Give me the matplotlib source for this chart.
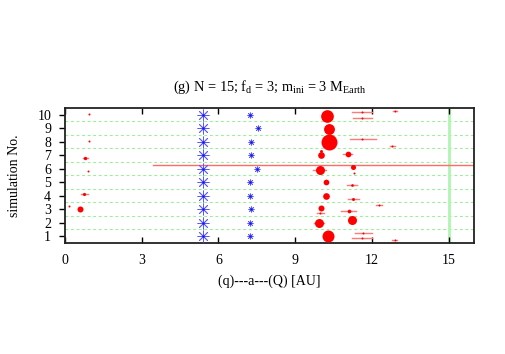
import numpy as np
import matplotlib
matplotlib.use("Agg")
import matplotlib.pyplot as plt

plt.rcParams["font.family"] = ["Liberation Serif", "DejaVu Serif"]
plt.rcParams["mathtext.fontset"] = "custom"
plt.rcParams["mathtext.rm"] = "Liberation Serif"
plt.rcParams["mathtext.it"] = "Liberation Serif:italic"

# simulation numbers and giant-planet columns (blue)
sims = [1, 2, 3, 4, 5, 6, 7, 8, 9, 10]
jup_a = [5.38] * 10
sat_a = [7.23, 7.23, 7.27, 7.23, 7.25, 7.52, 7.28, 7.28, 7.54, 7.22]

# surviving embryos (red): semi-major axis, plotted row, mass, peri, apo
emb_a = [0.93, 0.93, 0.80, 0.89, 0.76, 0.16, 0.60,
         10.26, 10.33, 10.33, 10.03, 10.03, 9.96, 10.22, 10.22, 10.00, 9.96, 9.92, 10.29,
         11.61, 12.90, 11.63, 11.63, 12.80, 11.07, 11.27, 11.31, 11.23, 11.27, 12.27,
         11.10, 11.24, 11.66, 11.60, 12.90]
emb_row = [10.05, 8.08, 6.80, 5.82, 4.15, 3.21, 2.99,
           9.93, 8.95, 7.96, 7.29, 6.98, 5.94, 5.01, 3.97, 3.12, 2.72, 1.95, 1.02,
           10.17, 10.30, 9.73, 8.21, 7.71, 7.10, 6.11, 5.70, 4.76, 3.78, 3.34,
           2.87, 2.22, 1.27, 0.88, 0.73]
emb_mass = [0.125, 0.125, 0.6, 0.125, 0.5, 0.125, 3.4,
            32, 20, 64, 0.42, 4.7, 11.4, 2.9, 4.7, 3.4, 0.125, 11.4, 27,
            0.125, 0.125, 0.125, 0.125, 0.125, 2.9, 2.0, 0.125, 0.3, 0.42, 0.125,
            0.8, 11.4, 0.125, 0.125, 0.125]
emb_q = [0.93, 0.93, 0.72, 0.89, 0.62, 0.16, 0.60,
         10.26, 10.33, 10.33, 10.03, 10.03, 9.70, 10.22, 10.22, 10.00, 9.86, 9.74, 10.29,
         11.24, 12.82, 11.27, 11.14, 12.71, 10.87, 11.27, 11.31, 11.03, 11.05, 12.16,
         10.81, 11.24, 11.33, 11.23, 12.80]
emb_Q = [0.93, 0.93, 0.88, 0.89, 0.90, 0.16, 0.60,
         10.26, 10.33, 10.33, 10.03, 10.03, 10.22, 10.22, 10.22, 10.00, 10.12, 10.12, 10.29,
         11.99, 12.99, 12.01, 12.15, 12.91, 11.23, 11.27, 11.31, 11.42, 11.49, 12.40,
         11.37, 11.24, 12.01, 12.01, 13.00]

marker_line_a = 3.45
marker_line_row = 6.25
outer_edge = 15.0

fig = plt.figure(figsize=(5.06, 3.54), dpi=100)
ax = fig.add_axes([0.1285, 0.3136, 0.8085, 0.3814])

for r in np.arange(1.5, 10, 1.0):
    ax.axhline(r, color="#99ee99", lw=0.8, ls=(0, (2.5, 2.5)), zorder=1)
ax.axvline(outer_edge, color="#b0f5b0", lw=2.0, zorder=1)
ax.plot([marker_line_a, 16], [marker_line_row, marker_line_row],
        color="#ff6a6a", lw=1.0, zorder=2)

star = (8, 2, 0)
ax.plot(jup_a, sims, ls="none", marker=star, ms=8.5, mec="#5a5aff", mew=0.6, zorder=3)
ax.plot(sat_a, sims, ls="none", marker=star, ms=4.2, mec="#5a5aff", mew=0.6, zorder=3)
ax.plot(jup_a + sat_a, sims + sims, ls="none", marker="s", ms=1.5, mfc="#1010ee",
        mec="none", zorder=3)

for a, r, m, q, Q in zip(emb_a, emb_row, emb_mass, emb_q, emb_Q):
    if Q > q:
        ax.plot([q, Q], [r, r], color="#ff7a7a", lw=1.0, zorder=3)
    ax.plot(a, r, "o", color="#ff0000", mec="none",
            ms=2.88 * m ** (1 / 3), zorder=4)

ax.set_xlim(0, 16)
ax.set_ylim(0.5, 10.5)
ax.set_xticks([0, 3, 6, 9, 12, 15])
ax.set_yticks(sims)
ax.tick_params(axis="x", direction="in", top=True, length=4, width=1, labelsize=10, pad=8)
ax.tick_params(axis="y", direction="out", length=4, width=1, labelsize=10, pad=6)
for s in ax.spines.values():
    s.set_linewidth(1.3)
    s.set_color("#222222")

ax.set_xlabel("(q)---a---(Q) [AU]", fontsize=10, labelpad=5)
ax.set_ylabel("simulation No.", fontsize=10, labelpad=12)
ax.set_title(r"(g) N = 15; f$_\mathrm{d}$ = 3; m$_\mathrm{ini}$ = 3 M$_\mathrm{Earth}$",
             fontsize=10.4, pad=12)

fig.savefig("out.png", dpi=100)
